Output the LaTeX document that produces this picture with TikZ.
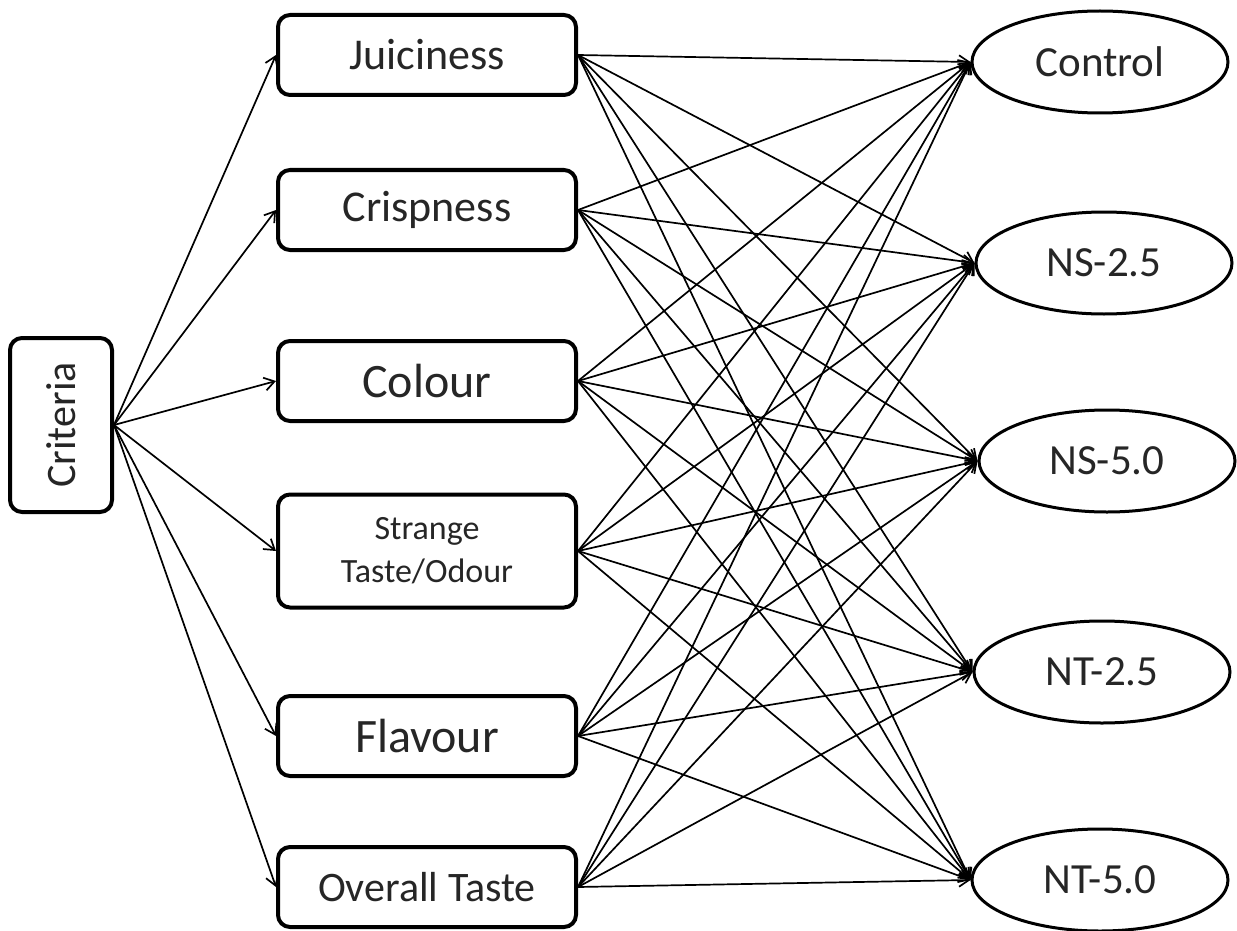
\documentclass[tikz,border=0pt]{standalone}
\usepackage{fontspec}
\setmainfont{Carlito}
\usepackage{graphicx}
\usetikzlibrary{shapes.geometric,arrows.meta}

\begin{document}
\begin{tikzpicture}[%
    x=0.5pt, y=-0.5pt,          % units are pixels of the sketch, y runs down
    >={Straight Barb[length=5pt,width=6.5pt]}, % open barbs like the sketch
    every node/.style={text=black!85},
    ]
% -------------------------------------------------
% A few box styles
\tikzset{
  base/.style={draw, line width=2pt, inner sep=0pt, align=center},
  box/.style={base, rounded corners=6pt, minimum width=149pt, minimum height=40pt,
    font=\fontsize{22}{26}\selectfont},
  res/.style={base, ellipse, line width=1.5pt, minimum width=128pt, minimum height=51pt,
    font=\fontsize{21.5}{26}\selectfont},
  % Connector line style
  link/.style={->, line width=0.85pt},
  big/.style={font=\fontsize{24}{28}\selectfont}
}
\useasboundingbox (0,0) rectangle (1237,931);
% -------------------------------------------------
% Start by placing the nodes

\node [base, rounded corners=6pt, minimum width=51pt, minimum height=87pt,
  font=\fontsize{21}{25}\selectfont] (cr) at (61,425) {\rotatebox{90}{Criteria}};

\node [box] (ju) at (427,55) {Juiciness};
\node [box] (cs) at (427,210) {Crispness};
\node [box, big] (co) at (427,381) {Colour};
\node [box, minimum height=56.5pt, font=\fontsize{17}{21.5}\selectfont] (st) at (427,551) {Strange\\Taste/Odour};
\node [box, big] (fl) at (427,736) {Flavour};
\node [box, font=\fontsize{21}{25}\selectfont] (ot) at (427,887) {Overall Taste};

\node [res] (c0) at (1100,62) {Control};
\node [res] (s25) at (1104,263) {NS-2.5};
\node [res] (s50) at (1107,461) {NS-5.0};
\node [res] (t25) at (1102,672) {NT-2.5};
\node [res] (t50) at (1100,880) {NT-5.0};

% Criteria to the six attributes
\draw[link] (cr.east) to (ju.west);
\draw[link] (cr.east) to (cs.west);
\draw[link] (cr.east) to (co.west);
\draw[link] (cr.east) to (st.west);
\draw[link] (cr.east) to (fl.west);
\draw[link] (cr.east) to (ot.west);

% Juiciness
\draw[link] (ju.east) to (c0.west);
\draw[link] (ju.east) to (s25.west);
\draw[link] (ju.east) to (s50.west);
\draw[link] (ju.east) to (t25.west);
\draw[link] (ju.east) to (t50.west);
% Crispness
\draw[link] (cs.east) to (c0.west);
\draw[link] (cs.east) to (s25.west);
\draw[link] (cs.east) to (s50.west);
\draw[link] (cs.east) to (t25.west);
\draw[link] (cs.east) to (t50.west);
% Colour
\draw[link] (co.east) to (c0.west);
\draw[link] (co.east) to (s25.west);
\draw[link] (co.east) to (s50.west);
\draw[link] (co.east) to (t25.west);
\draw[link] (co.east) to (t50.west);
% Strange Taste/Odour
\draw[link] (st.east) to (c0.west);
\draw[link] (st.east) to (s25.west);
\draw[link] (st.east) to (s50.west);
\draw[link] (st.east) to (t25.west);
\draw[link] (st.east) to (t50.west);
% Flavour
\draw[link] (fl.east) to (c0.west);
\draw[link] (fl.east) to (s25.west);
\draw[link] (fl.east) to (s50.west);
\draw[link] (fl.east) to (t25.west);
\draw[link] (fl.east) to (t50.west);
% Overall Taste
\draw[link] (ot.east) to (c0.west);
\draw[link] (ot.east) to (s25.west);
\draw[link] (ot.east) to (s50.west);
\draw[link] (ot.east) to (t25.west);
\draw[link] (ot.east) to (t50.west);

% -------------------------------------------------
\end{tikzpicture}
\end{document}
